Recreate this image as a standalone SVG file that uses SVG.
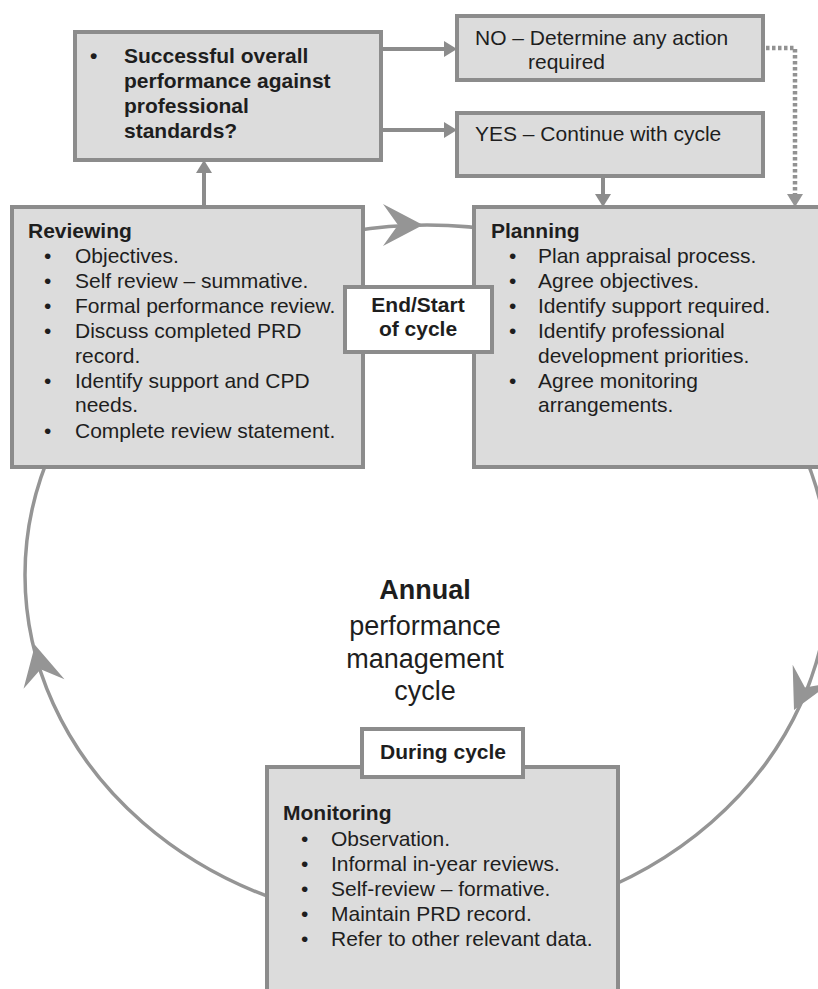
<svg xmlns="http://www.w3.org/2000/svg" width="818" height="989" viewBox="0 0 818 989">
<style>
.box{fill:#dcdcdc;stroke:#8c8c8c;stroke-width:4}
.lbl{fill:#ffffff;stroke:#8c8c8c;stroke-width:4}
text{font-family:"Liberation Sans",Arial,sans-serif;font-size:21px;fill:#1e1e1e}
.b{font-weight:bold}
.c{text-anchor:middle}
.big{font-size:27px}
.ln{stroke:#8c8c8c;stroke-width:4;fill:none}
.dot{stroke:#929292;stroke-width:4.5;fill:none;stroke-dasharray:3.5 2.5}
.cyc{stroke:#959595;stroke-width:3.5;fill:none}
.ah{fill:#8c8c8c}
.bh{fill:#959595}
</style>
<defs>
<path id="bigHead" d="M0,0 L-40,-21 L-25,0 L-40,21 Z"/>
<path id="smHead" d="M0,0 L-13,-8 L-13,8 Z"/>
</defs>

<g id="connectors">
<ellipse class="cyc" cx="427" cy="575" rx="402" ry="350"/>
<use href="#bigHead" class="bh" transform="translate(423,225)"/>
<use href="#bigHead" class="bh" transform="translate(35,645) rotate(-103)"/>
<use href="#bigHead" class="bh" transform="translate(794,710) rotate(116)"/>
<line class="ln" x1="204" y1="207" x2="204" y2="172"/>
<use href="#smHead" class="ah" transform="translate(204,160) rotate(-90)"/>
<line class="ln" x1="381" y1="49" x2="445" y2="49"/>
<use href="#smHead" class="ah" transform="translate(457,49)"/>
<line class="ln" x1="381" y1="130" x2="445" y2="130"/>
<use href="#smHead" class="ah" transform="translate(457,130)"/>
<line class="ln" x1="603" y1="176" x2="603" y2="195"/>
<use href="#smHead" class="ah" transform="translate(603,207) rotate(90)"/>
<polyline class="dot" points="766,48 795,48 795,195"/>
<use href="#smHead" class="bh" transform="translate(795,207) rotate(90)"/>
</g>

<g id="question">
<rect class="box" x="75" y="32" width="306" height="128"/>
<text class="b" x="90" y="63">•</text>
<text class="b" x="124" y="63">Successful overall</text>
<text class="b" x="124" y="88">performance against</text>
<text class="b" x="124" y="113">professional</text>
<text class="b" x="124" y="138">standards?</text>
</g>

<g id="no">
<rect class="box" x="457" y="16" width="306" height="64"/>
<text x="475" y="45">NO – Determine any action</text>
<text x="528" y="69">required</text>
</g>

<g id="yes">
<rect class="box" x="457" y="113" width="306" height="63"/>
<text x="475" y="141">YES – Continue with cycle</text>
</g>

<g id="reviewing">
<rect class="box" x="12" y="207" width="351" height="260"/>
<text class="b" x="28" y="238">Reviewing</text>
<text x="44" y="263">•</text><text x="75" y="263">Objectives.</text>
<text x="44" y="288">•</text><text x="75" y="288">Self review – summative.</text>
<text x="44" y="313">•</text><text x="75" y="313">Formal performance review.</text>
<text x="44" y="338">•</text><text x="75" y="338">Discuss completed PRD</text>
<text x="75" y="363">record.</text>
<text x="44" y="388">•</text><text x="75" y="388">Identify support and CPD</text>
<text x="75" y="412">needs.</text>
<text x="44" y="438">•</text><text x="75" y="438">Complete review statement.</text>
</g>

<g id="planning">
<rect class="box" x="474" y="207" width="352" height="260"/>
<text class="b" x="491" y="238">Planning</text>
<text x="509" y="263">•</text><text x="538" y="263">Plan appraisal process.</text>
<text x="509" y="288">•</text><text x="538" y="288">Agree objectives.</text>
<text x="509" y="313">•</text><text x="538" y="313">Identify support required.</text>
<text x="509" y="338">•</text><text x="538" y="338">Identify professional</text>
<text x="538" y="363">development priorities.</text>
<text x="509" y="388">•</text><text x="538" y="388">Agree monitoring</text>
<text x="538" y="412">arrangements.</text>
</g>

<g id="endstart">
<rect class="lbl" x="345" y="287" width="147" height="65"/>
<text class="b c" x="418" y="312">End/Start</text>
<text class="b c" x="418" y="336">of cycle</text>
</g>

<g id="center">
<text class="b c big" x="425" y="599">Annual</text>
<text class="c big" x="425" y="635">performance</text>
<text class="c big" x="425" y="668">management</text>
<text class="c big" x="425" y="700">cycle</text>
</g>

<g id="monitoring">
<rect class="box" x="267" y="767" width="351" height="240"/>
<text class="b" x="283" y="820">Monitoring</text>
<text x="301" y="846">•</text><text x="331" y="846">Observation.</text>
<text x="301" y="871">•</text><text x="331" y="871">Informal in-year reviews.</text>
<text x="301" y="896">•</text><text x="331" y="896">Self-review – formative.</text>
<text x="301" y="921">•</text><text x="331" y="921">Maintain PRD record.</text>
<text x="301" y="946">•</text><text x="331" y="946">Refer to other relevant data.</text>
</g>

<g id="during">
<rect class="lbl" x="362" y="729" width="161" height="48"/>
<text class="b c" x="443" y="759">During cycle</text>
</g>
</svg>
